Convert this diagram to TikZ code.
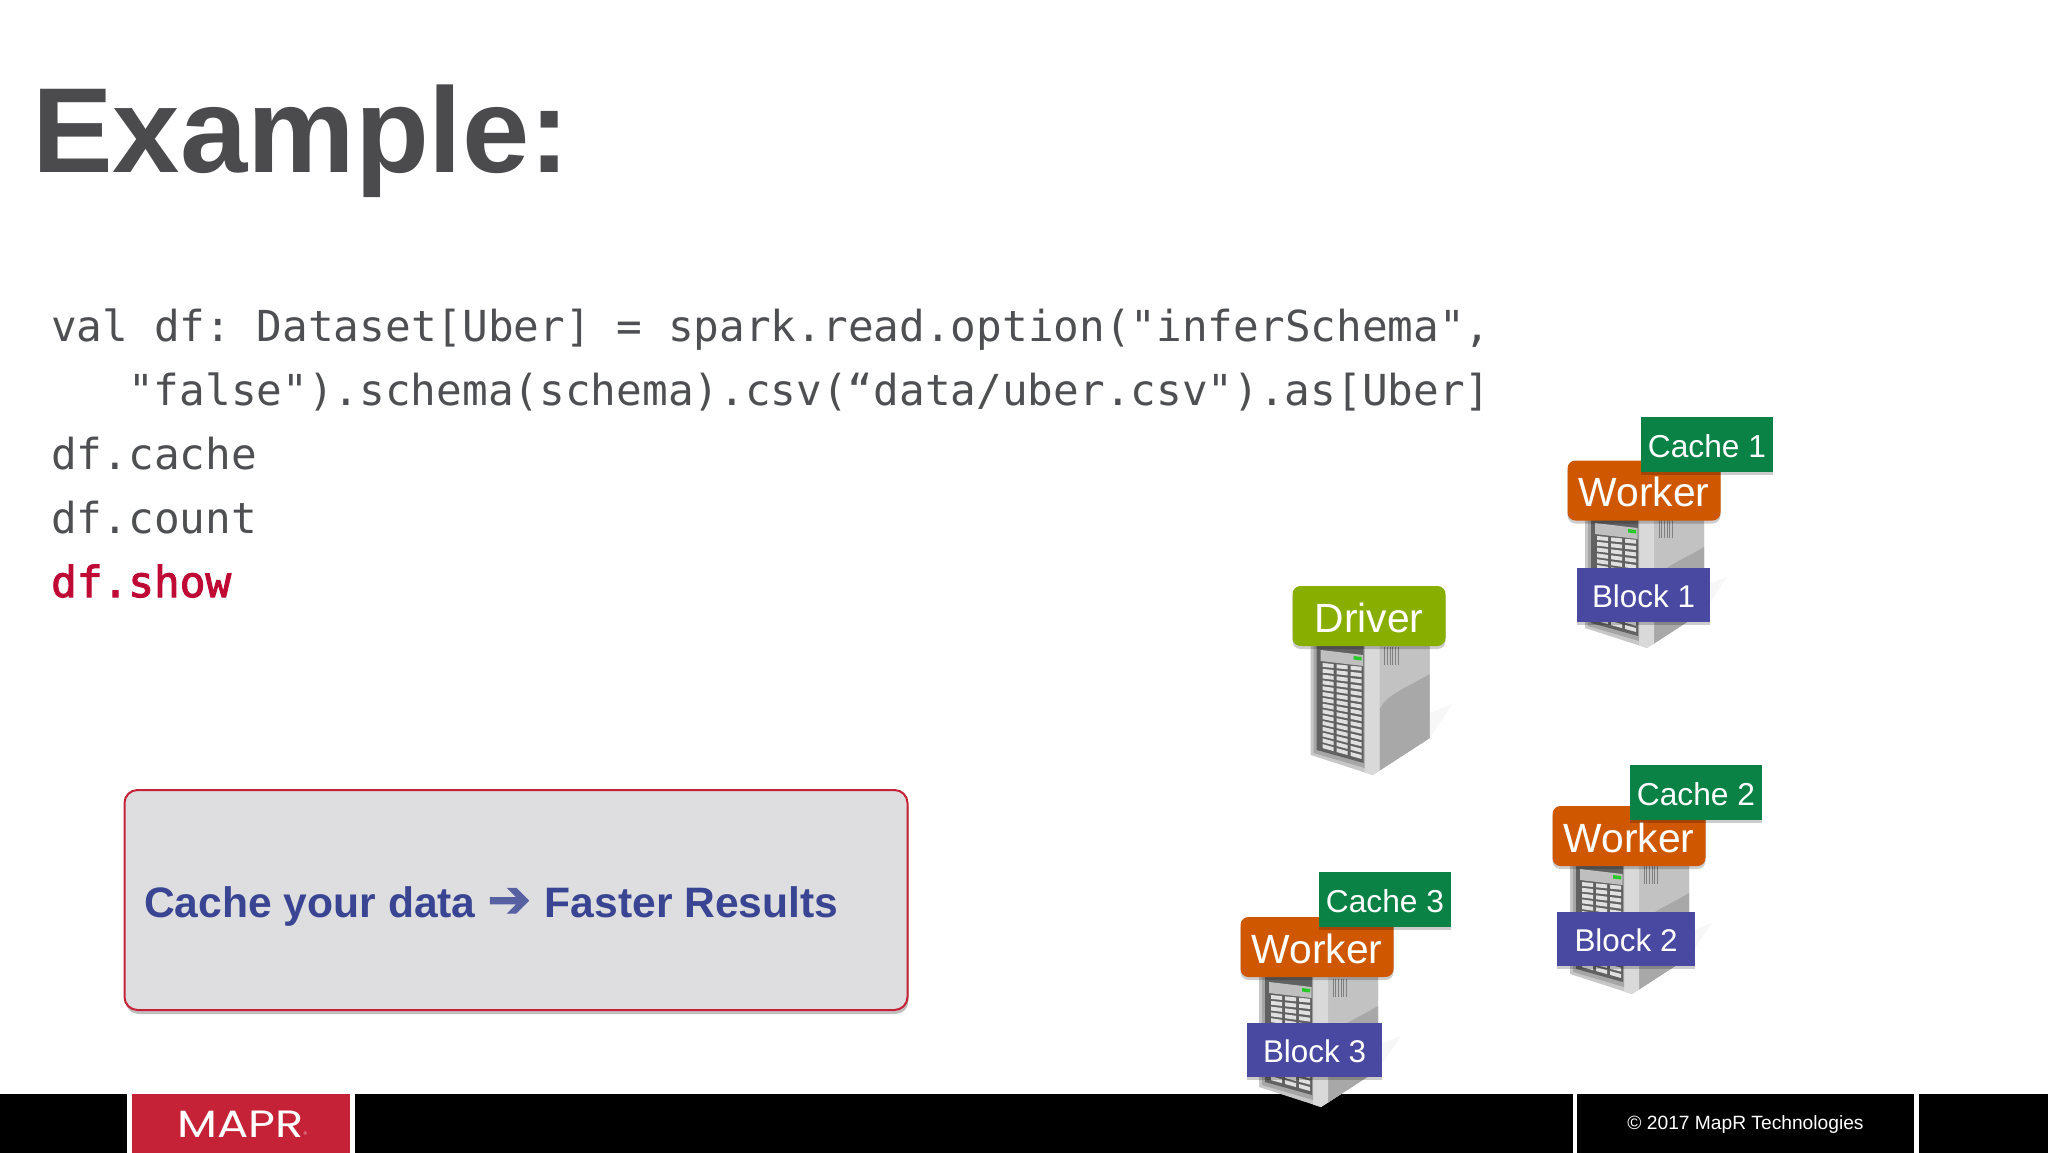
\documentclass[tikz,border=0pt]{standalone}
\usepackage{fontspec}
\setmainfont{Liberation Sans}
\newfontfamily\codefont{DejaVu Sans Mono}
\newfontfamily\showfont[FakeBold=2.5]{DejaVu Sans Mono}
\newfontfamily\arrowfont[FakeBold=2]{DejaVu Sans}
\newfontfamily\logofont{Poppins}
\usetikzlibrary{shadows}
\definecolor{slidegray}{HTML}{4B4B4D}
\definecolor{codegray}{HTML}{4D4F52}
\definecolor{showred}{HTML}{BE0A35}
\definecolor{maprred}{HTML}{C62237}
\definecolor{calloutgray}{HTML}{DEDEE0}
\definecolor{calloutblue}{HTML}{394592}
\definecolor{cachegreen}{HTML}{0A8245}
\definecolor{workerorange}{HTML}{CF5700}
\definecolor{blockblue}{HTML}{4949A1}
\definecolor{drivergreen}{HTML}{88AE00}
\newcommand{\sized}[1]{\fontsize{#1}{#1}\selectfont}
\tikzset{
        server/.pic = {
                \fill [black!3] (57,-37) -- (57,-62) -- (80,-71) -- cycle;
                \fill [black!22] (-62,-130) -- (-62,-20) -- (0,0) -- (57,-37) -- (57,-130) -- cycle;
                \fill [black!24] (7,-130) -- (7,-4.5) -- (57,-37) -- (57,-130) -- cycle;
                \fill [black!34] (7,-66) .. controls (16,-82) and (32,-86) .. (57,-101) -- (57,-37) -- (7,-4.5) -- cycle;
                \fill [black!15] (-8,-130) -- (-8,-2.5) -- (0,0) -- (7,-4.5) -- (7,-130) -- cycle;
                \fill [black!35] (-59,-130) -- (-59,-22) -- (-8,-7) -- (-8,-130) -- cycle;
                \fill [black!62] (-56,-130) -- (-56,-25) -- (-9,-12) -- (-9,-130) -- cycle;
                \fill [black!25] (-52,-125) -- (-52,-114) -- (-9.5,-109) -- (-9.5,-120) -- cycle;
                \fill [green!75!black!85!white] (-19,-119) -- (-11,-118) -- (-11,-114.5) -- (-19,-115.5) -- cycle;
                \foreach \i in {0,...,14}
                        \foreach \j in {0,1,2} {
                                \pgfmathsetmacro{\xa}{-50+14*\j}
                                \pgfmathsetmacro{\xb}{\xa+11}
                                \pgfmathsetmacro{\yl}{-112+5.8*\i}
                                \pgfmathsetmacro{\yr}{-108+6.33*\i}
                                \pgfmathsetmacro{\ya}{\yl+(\yr-\yl)*(\xa+50)/41}
                                \pgfmathsetmacro{\yb}{\yl+(\yr-\yl)*(\xb+50)/41}
                                \fill [black!12] (\xa,\ya) -- (\xb,\yb) -- (\xb,\yb+3.9) -- (\xa,\ya+3.9) -- cycle;
                        }
                \foreach \k in {0,...,5}
                        \draw [black!50, line width=1pt] ({12+2.7*\k},-128) -- ++(0,18);
        }
}

\begin{document}
\begin{tikzpicture}[x=1pt, y=-1pt,
        title/.style = {anchor=base west, inner sep=0, text=slidegray, font=\sized{121}\bfseries},
        code/.style = {anchor=base west, inner sep=0, text=codegray, font=\codefont\sized{42.7}\frenchspacing},
        cache/.style = {fill=cachegreen, text=white, inner sep=0, minimum width=132, minimum height=55, text height=25, text depth=0,
                font=\sized{31.7},
                drop shadow={shadow xshift=0pt, shadow yshift=-3pt, opacity=.2, fill=black}},
        block/.style = {fill=blockblue, text=white, inner sep=0, minimum height=54, text height=25, text depth=0,
                font=\sized{31.4},
                drop shadow={shadow xshift=0pt, shadow yshift=-3pt, opacity=.2, fill=black}},
        worker/.style = {fill=workerorange, text=white, inner sep=0, rounded corners=8, minimum width=153, minimum height=60,
                text height=32, text depth=0, font=\sized{40.8},
                drop shadow={shadow xshift=0pt, shadow yshift=-3pt, opacity=.2, fill=black}},
        driver/.style = {worker, fill=drivergreen},
        bar/.style = {fill=black},
        foot/.style = {text=white, inner sep=0, font=\sized{19.2}}]
        \useasboundingbox (0,0) rectangle (2048,1153);

        \node[title] at (32,172) (title) {Example:};

        \node[code] at (51,341) (line1) {val df: Dataset[Uber] = spark.read.option("inferSchema",};
        \node[code] at (128,405) (line2) {"false").schema(schema).csv(“data/uber.csv").as[Uber]};
        \node[code] at (51,469) (line3) {df.cache};
        \node[code] at (51,533) (line4) {df.count};
        \node[code, text=showred, font=\showfont\sized{42.7}] at (51,597) (line5) {df.show};

        \node[draw=maprred, line width=2pt, fill=calloutgray, rounded corners=13, minimum width=783, minimum height=220,
                drop shadow={shadow xshift=1pt, shadow yshift=-4pt, opacity=.25, fill=black}] at (516,900) (callout) {};
        \node[anchor=base west, inner sep=0, text=calloutblue, font=\sized{42.6}\bfseries] at (144,917) (result)
                {Cache your data {\arrowfont\sized{52}\textcolor{calloutblue!85!white}{➔}}\hspace{2pt} Faster Results};

        \fill[bar] (0,1094) rectangle (127,1153);
        \fill[maprred] (132,1094) rectangle (350,1153);
        \fill[bar] (355,1094) rectangle (1573,1153);
        \fill[bar] (1577,1094) rectangle (1914,1153);
        \fill[bar] (1919,1094) rectangle (2048,1153);
        \node[anchor=base west, text=white, inner sep=0, font=\logofont\sized{38}] at (177,1137) (logo)
                {\scalebox{1.22}[1]{MAPR}{\sized{8}\textcolor{white!60!maprred}{®}}};
        \node[foot] at (1745.5,1125) (copyright) {© 2017 MapR Technologies};

        \pic at (1372.7,775) {server};
        \pic at (1647,648) {server};
        \pic at (1632,994) {server};
        \pic at (1321,1107) {server};

        \node[driver] at (1369,616) (driver) {Driver};

        \node[worker] at (1644,490.5) (worker1) {Worker};
        \node[cache] at (1707,444.5) (cache1) {Cache 1};
        \node[block, minimum width=133] at (1643.5,595) (block1) {Block 1};

        \node[worker] at (1629,836) (worker2) {Worker};
        \node[cache] at (1696,792.5) (cache2) {Cache 2};
        \node[block, minimum width=138] at (1626,939) (block2) {Block 2};

        \node[worker] at (1317,947) (worker3) {Worker};
        \node[cache] at (1385,899.5) (cache3) {Cache 3};
        \node[block, minimum width=135] at (1314.5,1050) (block3) {Block 3};
\end{tikzpicture}
\end{document}
